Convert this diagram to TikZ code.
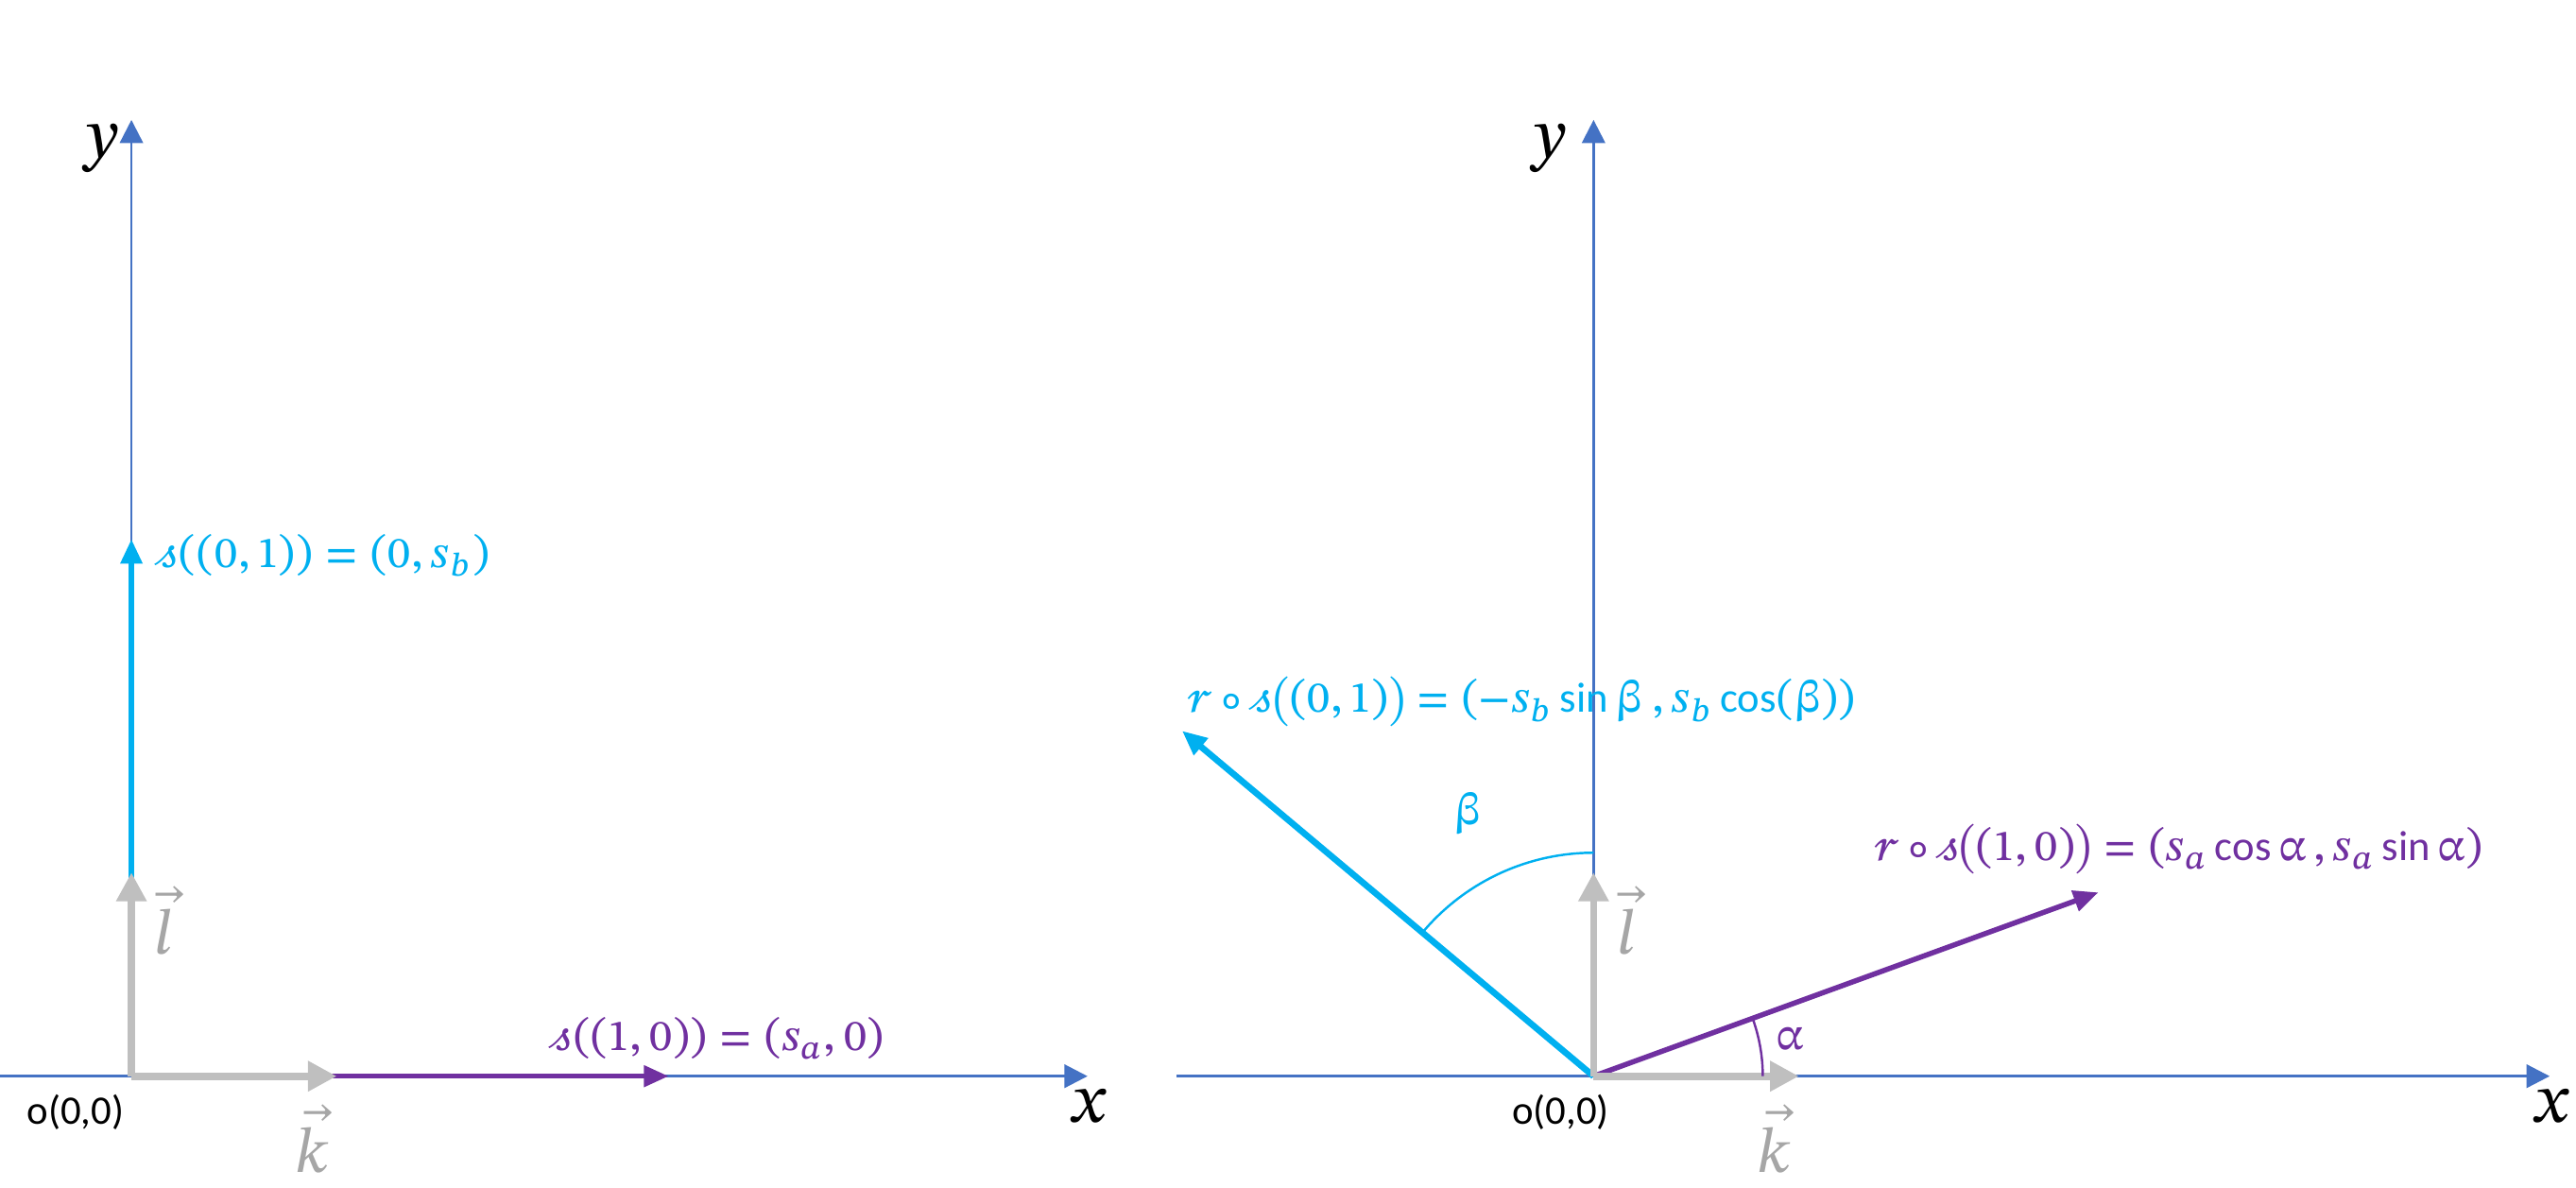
\documentclass[tikz,border=0pt]{standalone}
\usepackage{fontspec}
\usepackage{unicode-math}
\setmainfont{Carlito}
\setmathfont{STIX Two Math}
\usetikzlibrary{arrows.meta,calc}
\definecolor{axisblue}{HTML}{4472C4}
\definecolor{cyanC}{HTML}{00B0F0}
\definecolor{purpleC}{HTML}{7030A0}
\definecolor{grayL}{HTML}{BFBFBF}
\definecolor{grayT}{HTML}{A6A6A6}
\begin{document}
\begin{tikzpicture}[x=0.01cm,y=0.01cm,
  axis/.style={draw=axisblue, line width=0.5pt, -{Triangle[length=4pt,width=4pt]}},
  vecc/.style={draw=cyanC, line width=1.1pt, -{Triangle[length=4.3pt,width=3.6pt]}},
  vecp/.style={draw=purpleC, line width=0.9pt, -{Triangle[length=4.3pt,width=3.6pt]}},
  unitvec/.style={draw=grayL, line width=1.25pt, -{Triangle[length=5pt,width=5pt]}},
  lbl/.style={font=\fontsize{7.3}{9}\selectfont, inner sep=0pt},
  axlbl/.style={font=\fontsize{12}{14}\selectfont, inner sep=0pt},
  ulbl/.style={font=\fontsize{11}{13}\selectfont, text=grayT, inner sep=0pt},
  olbl/.style={font=\fontsize{7}{9}\selectfont, inner sep=0pt},
  anglearc/.style={line width=0.4pt}]
\useasboundingbox (0,0) rectangle (1568,-722.5);
% ---------- left panel ----------
\coordinate (O1) at (80,-655);
\coordinate (X1s) at (0,-655);
\coordinate (X1e) at (662,-655);
\coordinate (Y1e) at (80,-73);
\coordinate (C1) at (80,-328);
\coordinate (P1) at (407,-655);
\coordinate (K1) at (205,-655);
\coordinate (L1) at (80,-531);
\draw[axis] (X1s) -- (X1e);
\draw[axis, line width=0.4pt] (O1) -- (Y1e);
\draw[vecc] (O1) -- (C1);
\draw[vecp] (O1) -- (P1);
\draw[unitvec] (O1) -- (K1);
\draw[unitvec] (O1) -- (L1);
\node[axlbl] (ylab1) at (62,-90) {$y$};
\node[axlbl] (xlab1) at (663,-673) {$x$};
\node[olbl] (o1) at (46,-677) {o(0,0)};
\node[ulbl] (k1) at (190,-693) {$\vec{k}$};
\node[ulbl] (l1) at (100,-560) {$\vec{l}$};
\node[lbl, text=cyanC, anchor=west] (cl1) at (95,-338) {$\mathscr{s}((0,1)) = (0, s_b)$};
\node[lbl, text=purpleC, anchor=west] (pl1) at (335,-632) {$\mathscr{s}((1,0)) = (s_a, 0)$};
% ---------- right panel ----------
\coordinate (O2) at (970,-655);
\coordinate (X2s) at (716,-655);
\coordinate (X2e) at (1552,-655);
\coordinate (Y2e) at (970,-73);
\coordinate (C2) at ($(O2)+(140:327)$);
\coordinate (P2) at ($(O2)+(20:327)$);
\coordinate (K2) at (1095,-655);
\coordinate (L2) at (970,-531);
\draw[axis] (X2s) -- (X2e);
\draw[axis, line width=0.4pt] (O2) -- (Y2e);
\draw[vecc] (O2) -- (C2);
\draw[vecp] (O2) -- (P2);
\draw[unitvec] (O2) -- (K2);
\draw[unitvec] (O2) -- (L2);
\draw[anglearc, cyanC] ([shift={(90:136)}]O2) arc[start angle=90, end angle=140, radius=136];
\draw[anglearc, purpleC] ([shift={(0:103)}]O2) arc[start angle=0, end angle=20, radius=103];
\node[axlbl] (ylab2) at (943,-90) {$y$};
\node[axlbl] (xlab2) at (1553,-673) {$x$};
\node[olbl] (o2) at (950,-677) {o(0,0)};
\node[ulbl] (k2) at (1080,-693) {$\vec{k}$};
\node[ulbl] (l2) at (990,-560) {$\vec{l}$};
\node[lbl, text=cyanC] (beta) at (893,-495) {$\upbeta$};
\node[lbl, text=purpleC] (alpha) at (1090,-632) {$\upalpha$};
\node[lbl, text=cyanC, anchor=west] (cl2) at (722,-427) {$\mathscr{r}\circ\mathscr{s}\bigl((0,1)\bigr) = (-s_b\sin\upbeta\ , s_b\cos(\upbeta))$};
\node[lbl, text=purpleC, anchor=west] (pl2) at (1140,-517) {$\mathscr{r}\circ\mathscr{s}\bigl((1,0)\bigr) = (s_a\cos\upalpha\,, s_a\sin\upalpha)$};
\end{tikzpicture}
\end{document}
